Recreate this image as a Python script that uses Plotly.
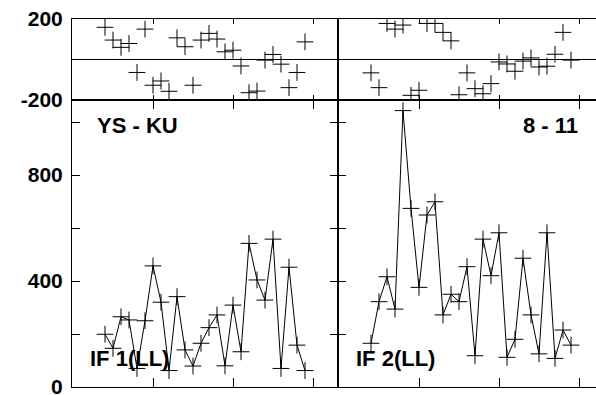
import plotly.graph_objects as go

# scan number along the x axis (same for both panels)
scans = [4, 5, 6, 7, 8, 9, 10, 11, 12, 13, 14, 15, 16, 17, 18, 19,
         20, 21, 22, 23, 24, 25, 26, 27, 28, 29]

# IF 1 (LL), left panel
if1_amp = [199, 146, 265, 253, 70, 250, 457, 320, 62, 341, 140, 79, 165,
           224, 272, 80, 309, 133, 542, 404, 328, 558, 70, 452, 158, 62]
if1_res = [159, 96, 60, 79, -64, 150, -127, -106, -157, 107, 63, -127, 96,
           129, 101, 38, 46, -32, -164, -156, -3, 25, -23, -139, -64, 87]

# IF 2 (LL), right panel
if2_amp = [165, 322, 416, 294, 1043, 674, 376, 649, 699, 272, 350, 322, 454,
           118, 558, 420, 582, 112, 180, 486, 272, 125, 582, 108, 215, 158]
if2_res = [-66, -139, 178, 150, 170, -177, -152, 178, 178, 134, 92, -174, -66,
           -144, -169, -119, -12, -22, -58, -8, 8, -37, -33, 26, 134, -3]

amp_ticks = [0, 200, 400, 600, 800, 1000]
amp_text = ["0", "", "400", "", "800", ""]
res_ticks = [-200, 0, 200]
res_text = ["-200", "", "200"]

FONT = "Liberation Sans, Arial, sans-serif"
W, H = 596, 395

def px_x(p):
    return p / W

def px_y(p):
    return (H - p) / H

marker = dict(symbol="cross-thin", size=12, color="black",
              line=dict(width=1, color="black"))

fig = go.Figure()
fig.add_trace(go.Scatter(x=scans, y=if1_amp, mode="lines+markers", marker=marker,
                         line=dict(color="black", width=1), xaxis="x", yaxis="y"))
fig.add_trace(go.Scatter(x=scans, y=if2_amp, mode="lines+markers", marker=marker,
                         line=dict(color="black", width=1), xaxis="x2", yaxis="y2"))
fig.add_trace(go.Scatter(x=scans, y=if1_res, mode="markers", marker=marker,
                         xaxis="x3", yaxis="y3"))
fig.add_trace(go.Scatter(x=scans, y=if2_res, mode="markers", marker=marker,
                         xaxis="x4", yaxis="y4"))

left_dom = [px_x(72), px_x(338)]
right_dom = [px_x(338), 1.0]
main_dom = [px_y(387), px_y(100)]
strip_dom = [px_y(100), px_y(19)]

xcommon = dict(tickvals=[10, 20, 30], ticks="inside", showticklabels=False,
               showline=True, linecolor="black", linewidth=1, tickcolor="black",
               showgrid=False, zeroline=False, automargin=False)
ycommon = dict(ticks="inside", showline=True, linecolor="black", linewidth=1,
               tickcolor="black", showgrid=False, ticklen=8, automargin=False,
               ticklabeloverflow="allow",
               tickfont=dict(family=FONT, size=21, color="black", weight="bold"))

fig.update_layout(
    template="none",
    width=W, height=H,
    margin=dict(l=0, r=0, t=0, b=0, autoexpand=False),
    paper_bgcolor="white", plot_bgcolor="white",
    showlegend=False,
    xaxis=dict(xcommon, domain=left_dom, range=[-0.125, 33.125], anchor="y",
               mirror="ticks", ticklen=9),
    xaxis2=dict(xcommon, domain=right_dom, range=[-0.125, 32.125], anchor="y2",
                mirror="ticks", ticklen=9),
    xaxis3=dict(xcommon, domain=left_dom, range=[-0.125, 33.125], anchor="y3",
                mirror="ticks", ticklen=5),
    xaxis4=dict(xcommon, domain=right_dom, range=[-0.125, 32.125], anchor="y4",
                mirror="ticks", ticklen=5),
    yaxis=dict(ycommon, domain=main_dom, range=[0, 1083], anchor="x",
               tickvals=amp_ticks, ticktext=amp_text, mirror="ticks",
               zeroline=False, ticklabelstandoff=4),
    yaxis2=dict(ycommon, domain=main_dom, range=[0, 1083], anchor="x2",
                tickvals=amp_ticks, showticklabels=False, mirror=False,
                zeroline=False),
    yaxis3=dict(ycommon, domain=strip_dom, range=[-200, 200], anchor="x3",
                tickvals=res_ticks, ticktext=res_text, mirror="ticks", ticklen=5,
                zeroline=True, zerolinecolor="black", zerolinewidth=1,
                ticklabelstandoff=4),
    yaxis4=dict(ycommon, domain=strip_dom, range=[-200, 200], anchor="x4",
                tickvals=res_ticks, showticklabels=False, mirror=False, ticklen=5,
                zeroline=True, zerolinecolor="black", zerolinewidth=1),
)

label_font = dict(family=FONT, size=22, color="black", weight="bold")
notes = [
    ("YS - KU", px_x(95), px_y(125), "left"),
    ("8 - 11", px_x(580), px_y(125), "right"),
    ("IF 1(LL)", px_x(88), px_y(358), "left"),
    ("IF 2(LL)", px_x(354), px_y(358), "left"),
]
for text, x, y, anchor in notes:
    fig.add_annotation(text=text, x=x, y=y, xref="paper", yref="paper",
                       xanchor=anchor, yanchor="middle", showarrow=False,
                       font=label_font)

# drop the browser's default page margin so the figure sits at the corner
fig.write_html("out.html", config={"displayModeBar": False},
               post_script="document.body.style.margin='0';")
